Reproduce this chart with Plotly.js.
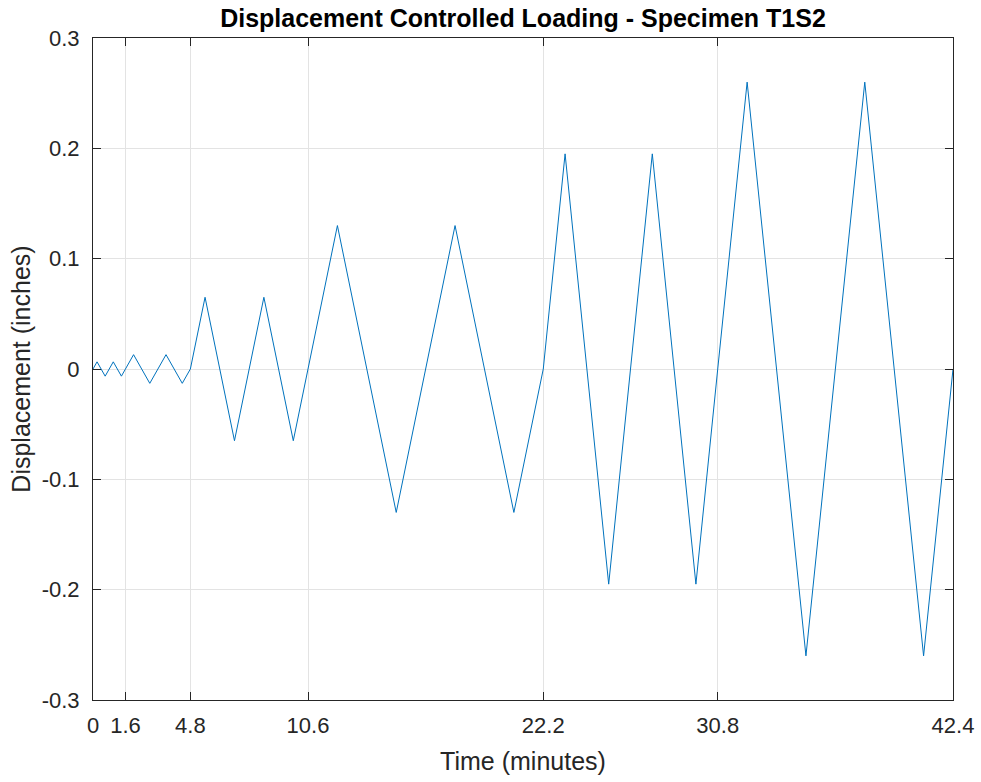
<!DOCTYPE html>
<html>
<head>
<meta charset="utf-8">
<script src="https://cdn.plot.ly/plotly-3.0.1.min.js"></script>
<style>
  html, body { margin: 0; padding: 0; background: #ffffff; }
  #chart { width: 981px; height: 782px; }
</style>
</head>
<body>
<div id="chart"></div>
<script>
// Loading protocol: time (minutes) at each turning point of the displacement history
const timeMinutes = [
  0, 0.2, 0.6, 1.0, 1.4, 1.6,
  2.0, 2.8, 3.6, 4.4, 4.8,
  5.525, 6.975, 8.425, 9.875, 10.6,
  12.05, 14.95, 17.85, 20.75, 22.2,
  23.275, 25.425, 27.575, 29.725, 30.8,
  32.25, 35.15, 38.05, 40.95, 42.4
];

// Displacement (inches) at each turning point
const displacementIn = [
  0, 0.0065, -0.0065, 0.0065, -0.0065, 0,
  0.013, -0.013, 0.013, -0.013, 0,
  0.065, -0.065, 0.065, -0.065, 0,
  0.13, -0.13, 0.13, -0.13, 0,
  0.195, -0.195, 0.195, -0.195, 0,
  0.26, -0.26, 0.26, -0.26, 0
];

// Axis ticks
const xTickVals = [0, 1.6, 4.8, 10.6, 22.2, 30.8, 42.4];
const xTickText = ['0', '1.6', '4.8', '10.6', '22.2', '30.8', '42.4'];
const yTickVals = [-0.3, -0.2, -0.1, 0, 0.1, 0.2, 0.3];
const yTickText = ['-0.3', '-0.2', '-0.1', '0', '0.1', '0.2', '0.3'];

const axisColor = '#262626';
const gridColor = '#e3e3e3';
const fontFamily = '"Liberation Sans", Arial, Helvetica, sans-serif';

const trace = {
  x: timeMinutes,
  y: displacementIn,
  type: 'scatter',
  mode: 'lines',
  line: { color: '#0072BD', width: 1 },
  hoverinfo: 'x+y'
};

const axisCommon = {
  showline: true,
  linecolor: axisColor,
  linewidth: 1,
  mirror: 'ticks',
  ticks: 'inside',
  ticklen: 8,
  tickwidth: 1,
  tickcolor: axisColor,
  showgrid: true,
  gridcolor: gridColor,
  gridwidth: 1,
  zeroline: false,
  tickfont: { family: fontFamily, size: 22, color: axisColor }
};

const layout = {
  width: 981,
  height: 782,
  paper_bgcolor: '#ffffff',
  plot_bgcolor: '#ffffff',
  margin: { l: 93, r: 28, t: 38, b: 82 },
  showlegend: false,
  font: { family: fontFamily, color: axisColor },
  title: {
    text: '<b>Displacement Controlled Loading - Specimen T1S2</b>',
    font: { family: fontFamily, size: 25, color: '#000000' },
    x: 0.5,
    xref: 'paper',
    xanchor: 'center',
    y: 1 - 18 / 782,
    yref: 'container',
    yanchor: 'middle'
  },
  xaxis: Object.assign({}, axisCommon, {
    range: [0, 42.4],
    tickmode: 'array',
    tickvals: xTickVals,
    ticktext: xTickText,
    ticklabelstandoff: 6,
    title: { text: 'Time (minutes)', font: { family: fontFamily, size: 25, color: axisColor }, standoff: 15 }
  }),
  yaxis: Object.assign({}, axisCommon, {
    range: [-0.3, 0.3],
    tickmode: 'array',
    tickvals: yTickVals,
    ticktext: yTickText,
    ticklabelstandoff: 8,
    title: { text: 'Displacement (inches)', font: { family: fontFamily, size: 25, color: axisColor }, standoff: 3 }
  })
};

Plotly.newPlot('chart', [trace], layout, { displayModeBar: false, staticPlot: true });
</script>
</body>
</html>
